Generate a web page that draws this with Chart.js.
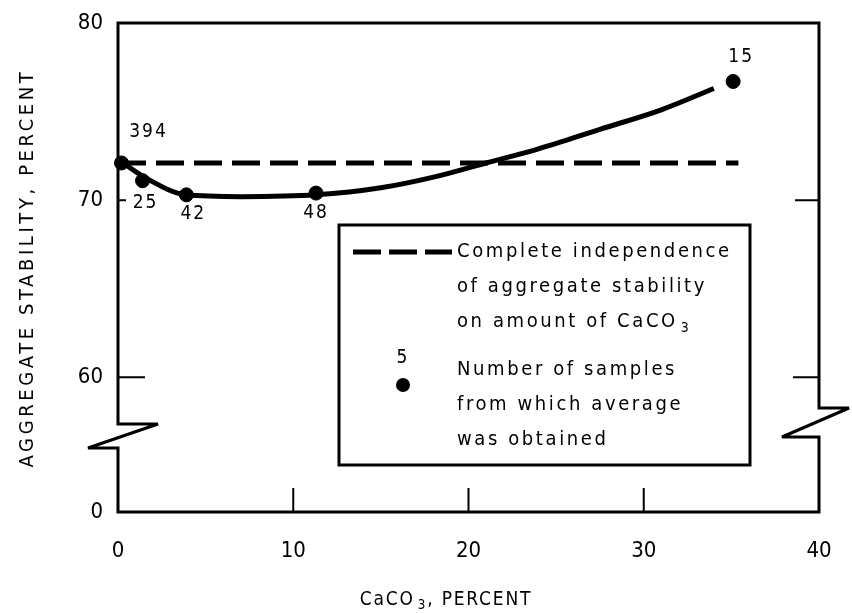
<!DOCTYPE html>
<html>
<head>
<meta charset="utf-8">
<script src="https://cdn.jsdelivr.net/npm/chart.js@4.4.1/dist/chart.umd.min.js"></script>
<style>
html, body { margin: 0; padding: 0; background: #fff; }
</style>
</head>
<body>
<canvas id="stabilityChart" width="852" height="614"></canvas>
<script>
// values
const xTicks = [0, 10, 20, 30, 40];
const yTicks = [52.4, 60, 70, 80];
const yTickLabels = ['0', '60', '70', '80'];

const independenceX = [0, 35.4];
const independenceY = [72.1, 72.1];

const curveX = [0, 1.5, 3.9, 7, 11.3, 15, 18, 21, 24, 27.5, 31, 34];
const curveY = [72.3, 71.3, 70.3, 70.2, 70.3, 70.7, 71.3, 72.1, 72.9, 74.0, 75.1, 76.3];

const sampleX = [0.2, 1.4, 3.9, 11.3, 35.1];
const sampleY = [72.1, 71.1, 70.3, 70.4, 76.7];
const sampleCounts = ['394', '25', '42', '48', '15'];

const legendLinesA = [['Complete independence'], ['of aggregate stability'], ['on amount of CaCO', '3']];
const legendLinesB = ['Number of samples', 'from which average', 'was obtained'];
const legendSample = '5';

const FONT = "'DejaVu Sans Condensed', 'DejaVu Sans', sans-serif";
const countOffsets = [[27, -31], [3, 22], [7, 19], [0, 20], [8, -24]];

function toPoints(xs, ys) {
    return xs.map(function(x, i) { return { x: x, y: ys[i] }; });
}

// text with an optional subscript part: parts = [normal, sub, normal...]
function drawParts(ctx, parts, x, y, size, align) {
    let widths = parts.map(function(p, i) {
        ctx.font = (i % 2 ? size * 0.7 : size) + 'px ' + FONT;
        return ctx.measureText(p).width + (i % 2 ? 3 : 0);
    });
    let total = widths.reduce(function(a, b) { return a + b; }, 0);
    let cx = align === 'center' ? x - total / 2 : x;
    ctx.textAlign = 'left';
    parts.forEach(function(p, i) {
        ctx.font = (i % 2 ? size * 0.7 : size) + 'px ' + FONT;
        ctx.fillText(p, cx + (i % 2 ? 3 : 0), y + (i % 2 ? size * 0.3 : 0));
        cx += widths[i];
    });
}

const framePlugin = {
    id: 'frame',
    afterDraw: function(chart) {
        const ctx = chart.ctx;
        const a = chart.chartArea;
        const L = a.left, R = a.right, T = a.top, B = a.bottom;
        const xs = chart.scales.x, ys = chart.scales.y;
        ctx.save();
        ctx.strokeStyle = '#000';
        ctx.fillStyle = '#000';
        ctx.lineWidth = 3;
        ctx.lineJoin = 'miter';
        ctx.miterLimit = 4;

        // box with axis breaks
        ctx.beginPath();
        ctx.moveTo(L, B - 88);
        ctx.lineTo(L, T);
        ctx.lineTo(R, T);
        ctx.lineTo(R, B - 104);
        ctx.lineTo(R + 30, B - 104);
        ctx.lineTo(R - 37, B - 75);
        ctx.lineTo(R, B - 75);
        ctx.lineTo(R, B);
        ctx.lineTo(L, B);
        ctx.lineTo(L, B - 64);
        ctx.lineTo(L - 30, B - 64);
        ctx.lineTo(L + 40, B - 88);
        ctx.closePath();
        ctx.stroke();

        // inward ticks
        ctx.lineWidth = 2;
        ctx.beginPath();
        [10, 20, 30].forEach(function(v) {
            const px = xs.getPixelForValue(v);
            ctx.moveTo(px, B);
            ctx.lineTo(px, B - 24);
        });
        [[70, 8, 24], [60, 27, 26]].forEach(function(t) {
            const py = ys.getPixelForValue(t[0]);
            ctx.moveTo(L, py);
            ctx.lineTo(L + t[1], py);
            ctx.moveTo(R, py);
            ctx.lineTo(R - t[2], py);
        });
        ctx.stroke();

        ctx.letterSpacing = '2px';
        ctx.textBaseline = 'middle';

        // sample counts next to the points
        const meta = chart.getDatasetMeta(2);
        ctx.font = '19px ' + FONT;
        ctx.textAlign = 'center';
        meta.data.forEach(function(pt, i) {
            ctx.fillText(sampleCounts[i], pt.x + countOffsets[i][0], pt.y + countOffsets[i][1]);
        });

        // legend
        const bx = L + 221, by = T + 202;
        ctx.lineWidth = 3;
        ctx.strokeRect(bx, by, 411, 240);
        ctx.lineWidth = 5;
        ctx.setLineDash([28, 8]);
        ctx.beginPath();
        ctx.moveTo(bx + 14, by + 27);
        ctx.lineTo(bx + 113, by + 27);
        ctx.stroke();
        ctx.setLineDash([]);
        ctx.letterSpacing = '2.6px';
        legendLinesA.forEach(function(parts, i) {
            drawParts(ctx, parts, bx + 118, by + 27 + i * 35, 20, 'left');
        });
        ctx.letterSpacing = '2px';
        ctx.font = '19px ' + FONT;
        ctx.textAlign = 'center';
        ctx.fillText(legendSample, bx + 64, by + 133);
        ctx.beginPath();
        ctx.arc(bx + 64, by + 160, 7, 0, Math.PI * 2);
        ctx.fill();
        ctx.letterSpacing = '2.6px';
        legendLinesB.forEach(function(line, i) {
            drawParts(ctx, [line], bx + 118, by + 145 + i * 35, 20, 'left');
        });

        // axis titles
        ctx.letterSpacing = '1.8px';
        drawParts(ctx, ['CaCO', '3', ', PERCENT'], 446, 600, 19, 'center');
        ctx.letterSpacing = '3.6px';
        ctx.translate(28, 268);
        ctx.rotate(-Math.PI / 2);
        ctx.font = '20px ' + FONT;
        ctx.textAlign = 'center';
        ctx.fillText('AGGREGATE STABILITY, PERCENT', 0, 0);
        ctx.restore();
    }
};

function initStabilityChart() {
    const el = document.getElementById('stabilityChart');
    const tickFont = { family: FONT, size: 22 };
    new Chart(el, {
        type: 'line',
        data: {
            datasets: [{
                label: 'Complete independence',
                data: toPoints(independenceX, independenceY),
                borderColor: '#000',
                borderWidth: 5,
                borderDash: [28, 10],
                pointRadius: 0,
                fill: false
            }, {
                label: 'Average',
                data: toPoints(curveX, curveY),
                borderColor: '#000',
                borderWidth: 5,
                cubicInterpolationMode: 'monotone',
                pointRadius: 0,
                fill: false
            }, {
                type: 'scatter',
                label: 'Samples',
                data: toPoints(sampleX, sampleY),
                backgroundColor: '#000',
                borderColor: '#000',
                pointRadius: 7,
                clip: false
            }]
        },
        options: {
            responsive: false,
            animation: false,
            devicePixelRatio: 1,
            layout: { padding: { top: 23, right: 33, left: 0, bottom: 0 } },
            plugins: {
                legend: { display: false },
                tooltip: { enabled: false }
            },
            scales: {
                x: {
                    type: 'linear',
                    min: 0,
                    max: 40,
                    afterBuildTicks: function(s) { s.ticks = xTicks.map(function(v) { return { value: v }; }); },
                    afterFit: function(s) { s.height = 102; s.paddingLeft = 0; s.paddingRight = 0; },
                    grid: { display: false, drawTicks: false },
                    border: { display: false },
                    ticks: { padding: 26, font: tickFont, color: '#000', maxRotation: 0, autoSkip: false }
                },
                y: {
                    type: 'linear',
                    min: yTicks[0],
                    max: 80,
                    afterBuildTicks: function(s) { s.ticks = yTicks.map(function(v) { return { value: v }; }); },
                    afterFit: function(s) { s.width = 118; s.paddingTop = 0; s.paddingBottom = 0; },
                    grid: { display: false, drawTicks: false },
                    border: { display: false },
                    ticks: {
                        padding: 15,
                        font: tickFont,
                        color: '#000',
                        autoSkip: false,
                        callback: function(value, index) { return yTickLabels[index]; }
                    }
                }
            }
        },
        plugins: [framePlugin]
    });
}

initStabilityChart();
</script>
</body>
</html>
